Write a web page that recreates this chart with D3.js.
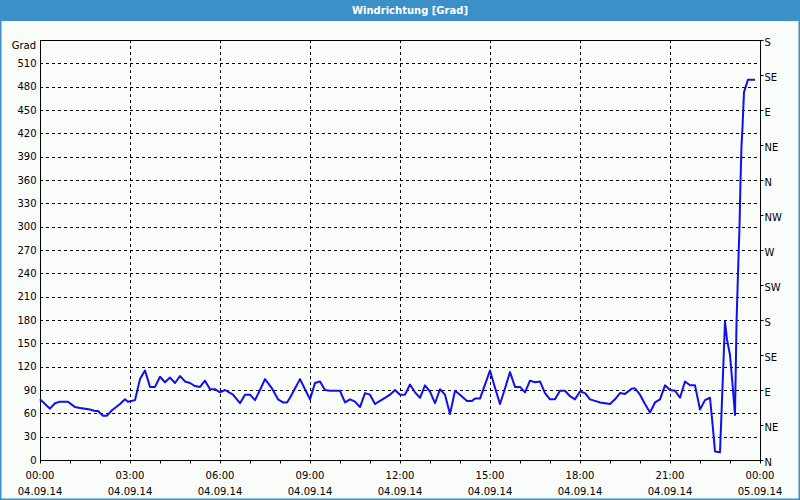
<!DOCTYPE html>
<html>
<head>
<meta charset="utf-8">
<script src="https://cdn.jsdelivr.net/npm/d3@7"></script>
<style>
    body { margin: 0; background: #fff; }
    svg text { font-family: Tahoma, "DejaVu Sans", sans-serif; font-size: 10px; fill: #000; }
</style>
</head>
<body>
<div id="chart"></div>
<script>

// minutes since 04.09.14 00:00
var minutes = [0, 10, 20, 30, 40, 56, 70, 80, 90, 100, 110, 116, 126, 134, 144, 160, 170, 176, 190,
    200, 210, 220, 230, 240, 250, 260, 270, 280, 290, 300, 310, 320, 330, 340, 350, 360, 370, 386,
    400, 410, 420, 430, 440, 450, 464, 476, 486, 494, 500, 510, 520, 530, 540, 550, 560, 570, 580,
    600, 610, 620, 630, 640, 650, 660, 670, 680, 690, 700, 710, 720, 730, 740, 750, 760, 770, 780,
    790, 800, 810, 820, 830, 840, 854, 864, 870, 880, 890, 900, 910, 920, 930, 940, 950, 960, 970,
    980, 990, 1000, 1010, 1020, 1030, 1040, 1050, 1060, 1070, 1080, 1090, 1100, 1110, 1120, 1130,
    1140, 1150, 1160, 1170, 1184, 1190, 1200, 1210, 1220, 1230, 1240, 1250, 1260, 1270, 1280, 1290,
    1300, 1310, 1320, 1330, 1340, 1346, 1350, 1360, 1364, 1370, 1374, 1380, 1386, 1390, 1393, 1396,
    1399, 1401, 1403, 1405, 1408, 1416, 1430];

// wind direction in degrees
var grad = [78, 72, 66, 73, 75, 75, 68, 67, 66, 65, 63, 63, 57, 57, 64, 72, 78, 75, 77,
    104, 115, 94, 94, 107, 100, 106, 99, 108, 101, 99, 95, 94, 102, 91, 91, 87, 90, 84,
    73, 84, 84, 77, 90, 104, 92, 78, 74, 74, 80, 92, 104, 91, 78, 99, 101, 90, 89,
    89, 74, 78, 75, 68, 86, 84, 72, 76, 80, 84, 90, 84, 84, 97, 87, 80, 96, 88,
    73, 91, 84, 59, 89, 84, 76, 76, 79, 79, 97, 115, 93, 72, 92, 113, 94, 94, 87,
    102, 100, 101, 86, 78, 78, 89, 89, 82, 78, 88, 86, 78, 76, 74, 73,
    72, 78, 86, 85, 92, 92, 84, 72, 61, 74, 78, 96, 90, 89, 80, 101,
    96, 96, 65, 77, 80, 40, 11, 10, 77, 178, 155, 135, 90, 58, 175, 240,
    300, 358, 404, 428, 473, 489, 489];

var leftTicks = [0, 30, 60, 90, 120, 150, 180, 210, 240, 270, 300, 330, 360, 390, 420, 450, 480, 510];
var rightTicks = [0, 45, 90, 135, 180, 225, 270, 315, 360, 405, 450, 495, 540];
var rightLabels = ["N", "NE", "E", "SE", "S", "SW", "W", "NW", "N", "NE", "E", "SE", "S"];
var hourTicks = [0, 3, 6, 9, 12, 15, 18, 21, 24];
var timeLabels = ["00:00", "03:00", "06:00", "09:00", "12:00", "15:00", "18:00", "21:00", "00:00"];
var dateLabels = ["04.09.14", "04.09.14", "04.09.14", "04.09.14", "04.09.14", "04.09.14", "04.09.14", "04.09.14", "05.09.14"];

var width = 800, height = 500;
var plotLeft = 40, plotRight = 760, plotTop = 40, plotBottom = 460;

var svg = d3.select("#chart").append("svg")
    .attr("width", width)
    .attr("height", height);

// frame + title bar
svg.append("rect")
    .attr("x", 0).attr("y", 0)
    .attr("width", width).attr("height", height)
    .attr("fill", "#f9fcf9");
svg.append("rect")
    .attr("x", 0.75).attr("y", 0.75)
    .attr("width", width - 1.5).attr("height", height - 1.5)
    .attr("fill", "none")
    .attr("stroke", "#3c90c8")
    .attr("stroke-width", 1.5);
svg.append("rect")
    .attr("x", 0).attr("y", 0)
    .attr("width", width).attr("height", 21)
    .attr("fill", "#3c90c8");
svg.append("text")
    .attr("x", 410).attr("y", 14)
    .attr("text-anchor", "middle")
    .style("fill", "#fff")
    .style("font-weight", "bold")
    .text("Windrichtung [Grad]");

var x = d3.scaleLinear().domain([0, 24]).range([plotLeft, plotRight]);
var y = d3.scaleLinear().domain([0, 540]).range([plotBottom, plotTop]);

// grid
svg.append("g").selectAll("line")
    .data(leftTicks.filter(function(d) { return d > 0; }))
    .enter().append("line")
    .attr("x1", plotLeft).attr("x2", plotRight)
    .attr("y1", function(d) { return Math.round(y(d)) + 0.5; })
    .attr("y2", function(d) { return Math.round(y(d)) + 0.5; })
    .attr("stroke", "#000")
    .attr("stroke-dasharray", "3,3");
svg.append("g").selectAll("line")
    .data(hourTicks.filter(function(d) { return d > 0 && d < 24; }))
    .enter().append("line")
    .attr("x1", function(d) { return x(d) + 0.5; })
    .attr("x2", function(d) { return x(d) + 0.5; })
    .attr("y1", plotTop).attr("y2", plotBottom)
    .attr("stroke", "#000")
    .attr("stroke-dasharray", "3,3");

// left axis
var yAxis = d3.axisLeft(y)
    .tickValues(leftTicks)
    .tickSize(0)
    .tickPadding(4);
svg.append("g")
    .attr("transform", "translate(" + (plotLeft + 0.5) + ",0)")
    .call(yAxis)
    .call(function(g) { g.select(".domain").remove(); })
    .selectAll("text").style("font-size", "10px").style("font-family", null);
svg.append("text")
    .attr("x", plotLeft - 4).attr("y", 49)
    .attr("text-anchor", "end")
    .text("Grad");

// right axis
var yRight = d3.axisRight(y)
    .tickValues(rightTicks)
    .tickFormat(function(d, i) { return rightLabels[i]; })
    .tickSize(3)
    .tickPadding(1);
svg.append("g")
    .attr("transform", "translate(" + (plotRight + 0.5) + ",0)")
    .call(yRight)
    .call(function(g) { g.select(".domain").remove(); })
    .selectAll("text").attr("dy", "0.55em").style("font-size", "10px").style("font-family", null);

// bottom axis, hourly minor ticks
var xAxis = d3.axisBottom(x)
    .tickValues(d3.range(0, 25))
    .tickFormat("")
    .tickSize(3);
svg.append("g")
    .attr("transform", "translate(0," + (plotBottom + 0.5) + ")")
    .call(xAxis)
    .call(function(g) { g.select(".domain").remove(); });

var xl = svg.append("g").selectAll("g")
    .data(hourTicks)
    .enter().append("g");
xl.append("text")
    .attr("x", function(d) { return x(d); })
    .attr("y", 479)
    .attr("text-anchor", "middle")
    .text(function(d, i) { return timeLabels[i]; });
xl.append("text")
    .attr("x", function(d) { return x(d); })
    .attr("y", 495)
    .attr("text-anchor", "middle")
    .text(function(d, i) { return dateLabels[i]; });

// plot frame
svg.append("rect")
    .attr("x", plotLeft + 0.5).attr("y", plotTop + 0.5)
    .attr("width", plotRight - plotLeft).attr("height", plotBottom - plotTop)
    .attr("fill", "none")
    .attr("stroke", "#000");

// the line
var data = minutes.map(function(m, i) { return { h: m / 60, v: grad[i] }; });
var line = d3.line()
    .x(function(d) { return x(d.h); })
    .y(function(d) { return y(d.v); });
svg.append("path")
    .datum(data)
    .attr("d", line)
    .attr("fill", "none")
    .attr("stroke", "#1010e8")
    .attr("stroke-width", 2)
    .attr("stroke-linejoin", "round");

</script>
</body>
</html>
